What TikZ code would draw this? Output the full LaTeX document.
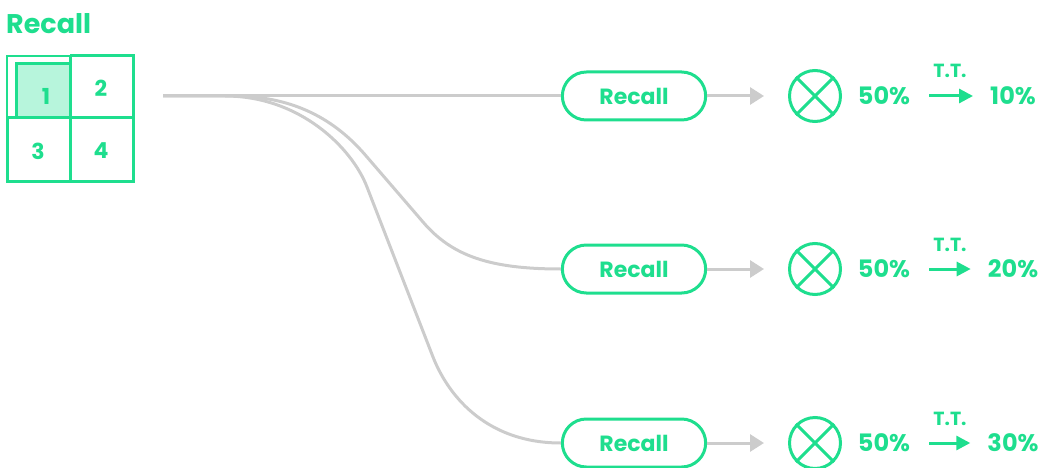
\documentclass[tikz,border=0pt]{standalone}
\usepackage{fontspec}
\setmainfont{Poppins}
\usetikzlibrary{arrows.meta,shapes.misc}
\definecolor{mint}{RGB}{30,222,142}
\definecolor{mintfill}{RGB}{183,245,220}
\definecolor{wire}{RGB}{204,204,204}
\tikzset{
  txt/.style={text=mint,font=\bfseries,inner sep=0pt},
  pill/.style={rounded rectangle,draw=mint,line width=3pt,fill=white,
    minimum width=150pt,minimum height=48pt,text=mint,font=\fontsize{22}{22}\bfseries\selectfont},
  gate/.style={circle,draw=mint,line width=3pt,minimum size=51pt,inner sep=0pt},
  feed/.style={draw=wire,line width=3pt},
  pct/.style={txt,font=\fontsize{24}{24}\bfseries\selectfont},
  tt/.style={txt,font=\fontsize{19}{19}\bfseries\selectfont,anchor=base},
  cell/.style={txt,font=\fontsize{22}{22}\bfseries\selectfont},
  grid/.style={draw=mint,line width=3pt},
}
\begin{document}
\begin{tikzpicture}[x=1pt,y=-1pt]
\useasboundingbox (0,0) rectangle (1043,468);

% title and 2x2 grid
\node[txt,font=\fontsize{27}{27}\bfseries\selectfont,anchor=base west] (title) at (6,34) {Recall};
\fill[mintfill] (16,64) rectangle (70,118);
\draw[draw=mint,line width=1.5pt] (7,118) -- (7,56) -- (70,56);
\draw[grid] (70,56) -- (133,56) -- (133,181) -- (7,181) -- (7,118);
\draw[grid] (70,56) -- (70,181);
\draw[grid] (7,118) -- (133,118);
\draw[grid] (16,118) -- (16,64) -- (70,64);
\node[cell] (c1) at (46,96) {1};
\node[cell] (c2) at (101,88) {2};
\node[cell] (c3) at (38,151) {3};
\node[cell] (c4) at (101,151) {4};

\coordinate (src) at (163,96);

% three rows
\foreach \i/\y/\res in {1/96/10\%,2/269/20\%,3/443/30\%}{
  \node[pill] (p\i) at (634,\y) {Recall};
  \node[gate] (g\i) at (815,\y) {};
  \draw[mint,line width=3pt] (g\i.45) -- (g\i.225) (g\i.135) -- (g\i.315);
  \node[pct] (a\i) at (884,\y) {50\%};
  \node[pct] (b\i) at (1013,\y) {\res};
  \draw[mint,line width=3pt,-{Triangle[length=14pt,width=14pt]},shorten <=19pt,shorten >=17pt] (a\i.east) -- (b\i.west);
  \node[tt] (t\i) at (950,\y-18) {T.T.};
  \draw[wire,line width=3pt,-{Triangle[length=14pt,width=17pt]},shorten >=24pt] (p\i.east) -- (g\i.west);
}

% branching feed lines
\draw[feed] (src) -- (p1.west);
\draw[feed] (src) -- (233,96) .. controls (300,96) and (340,125) .. (367,157)
  -- (423,222) .. controls (452,256) and (490,269) .. (p2.west);
\draw[feed] (src) -- (225,96) .. controls (300,96) and (352,148) .. (367,187)
  -- (433,357) .. controls (450,400) and (490,443) .. (p3.west);
\end{tikzpicture}
\end{document}
